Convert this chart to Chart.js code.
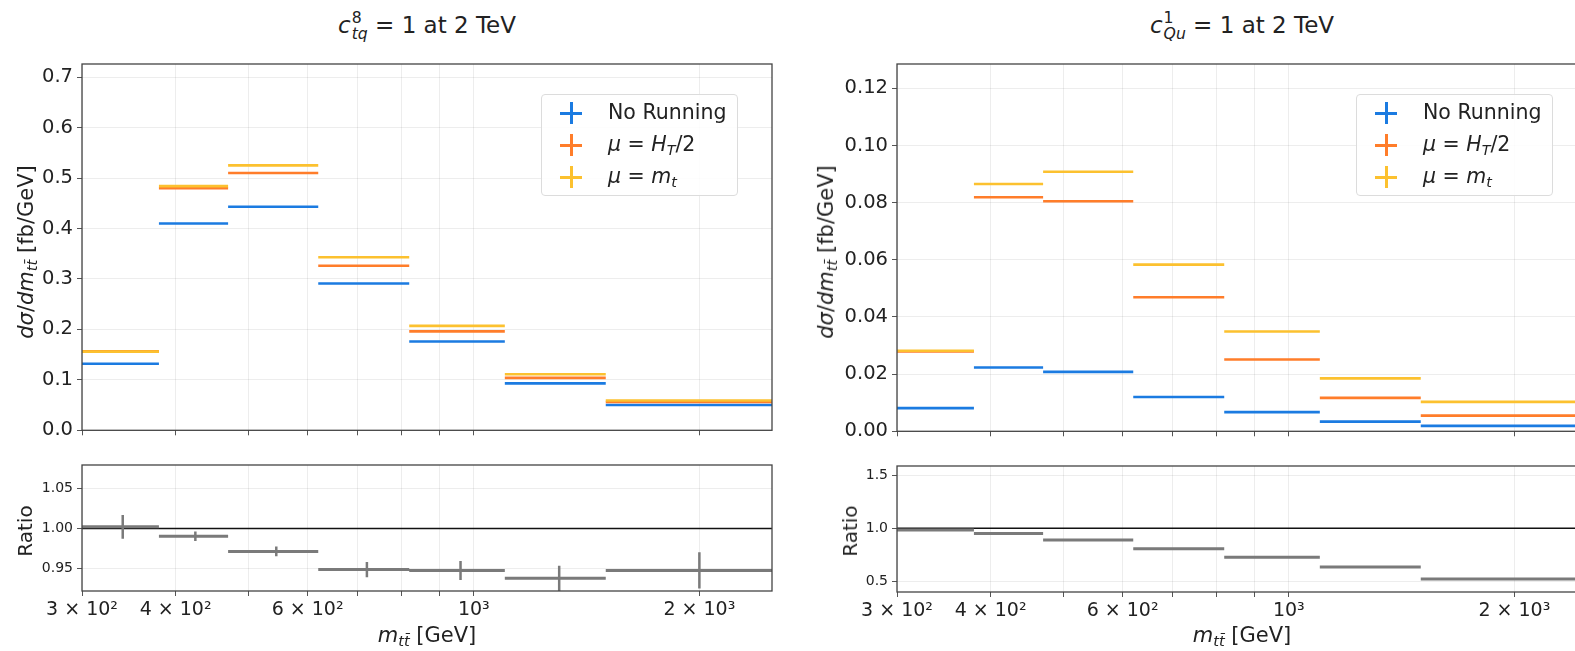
<!DOCTYPE html>
<html>
<head>
<meta charset="utf-8">
<script src="https://cdn.jsdelivr.net/npm/chart.js@4.4.1/dist/chart.umd.min.js"></script>
<style>
  body { margin: 0; width: 1575px; height: 651px; overflow: hidden; background: #fff; position: relative;
         font-family: 'DejaVu Sans', sans-serif; color: #222; }
  .box { position: absolute; }
  .txt { position: absolute; white-space: nowrap; transform: translate(-50%, -50%); line-height: 1; }
  .rot { transform: translate(-50%, -50%) rotate(-90deg); }
  .ss { display: inline-flex; flex-direction: column; vertical-align: middle; font-size: 0.68em; line-height: 1.05; margin-left: 1px; }
  .ss i, .ss span { text-align: left; }
  sub { font-size: 0.7em; vertical-align: -0.3em; }
  .legend { position: absolute; width: 195px; height: 100px; border: 1px solid #dcdcdc; border-radius: 4px;
            background: rgba(255,255,255,0.85); font-size: 20.5px; }
  .row { position: absolute; left: 0; height: 30px; width: 100%; }
  .plus { position: absolute; left: 18px; top: 4px; width: 22px; height: 22px; }
  .plus::before, .plus::after { content: ''; position: absolute; background: var(--c); }
  .plus::before { left: 0; top: 10px; width: 22px; height: 3px; }
  .plus::after { left: 10px; top: 0; width: 3px; height: 22px; }
  .lab { position: absolute; left: 66px; top: 3px; line-height: 1.1; }
</style>
</head>
<body>
<div class="box" id="leftMainBox"><canvas id="leftMain"></canvas></div>
<div class="box" id="leftRatioBox"><canvas id="leftRatio"></canvas></div>
<div class="box" id="rightMainBox"><canvas id="rightMain"></canvas></div>
<div class="box" id="rightRatioBox"><canvas id="rightRatio"></canvas></div>

<div class="txt" style="left:427px;top:26px;font-size:23px"><i>c</i><span class="ss"><span>8</span><i>tq</i></span> = 1 at 2 TeV</div>
<div class="txt" style="left:1242px;top:26px;font-size:23px"><i>c</i><span class="ss"><span>1</span><i>Qu</i></span> = 1 at 2 TeV</div>

<div class="txt rot" style="left:28px;top:252px;font-size:21px"><i>dσ</i>/<i>dm</i><sub><i>tt̄</i></sub> [fb/GeV]</div>
<div class="txt rot" style="left:828px;top:252px;font-size:21px"><i>dσ</i>/<i>dm</i><sub><i>tt̄</i></sub> [fb/GeV]</div>
<div class="txt rot" style="left:25px;top:531px;font-size:20px">Ratio</div>
<div class="txt rot" style="left:850px;top:531px;font-size:20px">Ratio</div>
<div class="txt" style="left:427px;top:637px;font-size:21px"><i>m</i><sub><i>tt̄</i></sub> [GeV]</div>
<div class="txt" style="left:1242px;top:637px;font-size:21px"><i>m</i><sub><i>tt̄</i></sub> [GeV]</div>

<div class="legend" style="left:541px;top:94px">
  <div class="row" style="top:3px"><span class="plus" style="--c:#1b7be1"></span><span class="lab">No Running</span></div>
  <div class="row" style="top:35px"><span class="plus" style="--c:#ff7d2a"></span><span class="lab"><i>μ</i> = <i>H</i><sub><i>T</i></sub>/2</span></div>
  <div class="row" style="top:67px"><span class="plus" style="--c:#fcc12f"></span><span class="lab"><i>μ</i> = <i>m</i><sub><i>t</i></sub></span></div>
</div>
<div class="legend" style="left:1356px;top:94px">
  <div class="row" style="top:3px"><span class="plus" style="--c:#1b7be1"></span><span class="lab">No Running</span></div>
  <div class="row" style="top:35px"><span class="plus" style="--c:#ff7d2a"></span><span class="lab"><i>μ</i> = <i>H</i><sub><i>T</i></sub>/2</span></div>
  <div class="row" style="top:67px"><span class="plus" style="--c:#fcc12f"></span><span class="lab"><i>μ</i> = <i>m</i><sub><i>t</i></sub></span></div>
</div>

<script>
// bin edges in m_tt [GeV]
const binEdges = [300, 380, 470, 620, 820, 1100, 1500, 2500];

// c_tq^8 panel
const leftNoRunning = [0.132, 0.410, 0.443, 0.291, 0.176, 0.093, 0.050];
const leftHT2 = [0.1565, 0.480, 0.510, 0.326, 0.196, 0.104, 0.056];
const leftMt = [0.156, 0.484, 0.525, 0.343, 0.207, 0.111, 0.059];
const leftRatio = [1.002, 0.990, 0.971, 0.948, 0.947, 0.937, 0.947];
const leftRatioErr = [0.015, 0.006, 0.006, 0.0095, 0.012, 0.016, 0.023];

// c_Qu^1 panel
const rightNoRunning = [0.0081, 0.0223, 0.0208, 0.0120, 0.0067, 0.0034, 0.0019];
const rightHT2 = [0.0279, 0.0819, 0.0805, 0.0469, 0.0251, 0.0117, 0.0055];
const rightMt = [0.0282, 0.0865, 0.0908, 0.0583, 0.0349, 0.0185, 0.0103];
const rightRatio = [0.984, 0.952, 0.889, 0.807, 0.727, 0.635, 0.521];
const rightRatioErr = [0, 0, 0, 0, 0, 0, 0];

// ticks
const xTickValues = [300, 400, 500, 600, 700, 800, 900, 1000, 2000];
const xTickLabels = { 300: '3 × 10²', 400: '4 × 10²', 600: '6 × 10²', 1000: '10³', 2000: '2 × 10³' };
const leftMainTicks = [0, 0.1, 0.2, 0.3, 0.4, 0.5, 0.6, 0.7];
const rightMainTicks = [0, 0.02, 0.04, 0.06, 0.08, 0.10, 0.12];
const leftRatioTicks = [0.95, 1.00, 1.05];
const rightRatioTicks = [0.5, 1.0, 1.5];
const ratioRef = 1;

const BLUE = '#1b7be1', ORANGE = '#ff7d2a', YELLOW = '#fcc12f', GREY = '#7a7a7a';
const PAD = 20, YW = 80;

Chart.defaults.font.family = "'DejaVu Sans', sans-serif";
Chart.defaults.color = '#222';

function stepData(values) {
  const pts = [];
  values.forEach((v, i) => {
    pts.push({ x: binEdges[i], y: v }, { x: binEdges[i + 1], y: v }, { x: binEdges[i + 1], y: null });
  });
  return pts;
}

function errData(values, errs) {
  const pts = [];
  values.forEach((v, i) => {
    const c = (binEdges[i] + binEdges[i + 1]) / 2;
    pts.push({ x: c, y: v - errs[i] }, { x: c, y: v + errs[i] }, { x: c, y: null });
  });
  return pts;
}

const frame = {
  id: 'frame',
  afterDatasetsDraw(chart) {
    const { ctx, chartArea: { left, top, width, height } } = chart;
    ctx.save();
    ctx.strokeStyle = '#444';
    ctx.lineWidth = 1.3;
    ctx.strokeRect(left, top, width, height);
    ctx.restore();
  }
};

function line(data, color, width, order) {
  return {
    data, borderColor: color, borderWidth: width, pointRadius: 0, spanGaps: false,
    borderCapStyle: 'butt', tension: 0, order
  };
}

function panel(id, area, xh, showLabels, yMin, yMax, yTicks, yDigits, ySize, datasets) {
  const box = document.getElementById(id + 'Box');
  const canvas = document.getElementById(id);
  const w = YW + area.w + PAD, h = PAD + area.h + xh;
  box.style.left = (area.x - YW) + 'px';
  box.style.top = (area.y - PAD) + 'px';
  canvas.width = w; canvas.height = h;
  canvas.style.width = w + 'px'; canvas.style.height = h + 'px';

  new Chart(canvas, {
    type: 'line',
    plugins: [frame],
    data: { datasets },
    options: {
      responsive: false,
      animation: false,
      layout: { padding: { top: PAD, right: PAD, bottom: 0, left: 0 } },
      plugins: { legend: { display: false }, tooltip: { enabled: false } },
      scales: {
        x: {
          type: 'logarithmic', min: 300, max: 2500,
          afterBuildTicks: s => { s.ticks = xTickValues.map(v => ({ value: v })); },
          afterFit: s => { s.height = xh; },
          ticks: {
            autoSkip: false, maxRotation: 0, padding: 3,
            font: { size: 19 }, color: '#222',
            callback: v => showLabels ? (xTickLabels[v] || '') : ''
          },
          grid: { color: 'rgba(0,0,0,0.07)', tickColor: '#555', tickLength: 5 },
          border: { display: false }
        },
        y: {
          min: yMin, max: yMax,
          afterBuildTicks: s => { s.ticks = yTicks.map(v => ({ value: v })); },
          afterFit: s => { s.width = YW; },
          ticks: { padding: 4, font: { size: ySize }, color: '#222', callback: v => v.toFixed(yDigits) },
          grid: { color: 'rgba(0,0,0,0.07)', tickColor: '#555', tickLength: 5 },
          border: { display: false }
        }
      }
    }
  });
}

const leftArea = { x: 82, w: 690 };
const rightArea = { x: 897, w: 690 };

panel('leftMain', { ...leftArea, y: 64, h: 376 }, 6, false, 0, 0.726, leftMainTicks, 1, 19.5, [
  line(stepData(leftMt), YELLOW, 2.6, 0),
  line(stepData(leftHT2), ORANGE, 2.6, 1),
  line(stepData(leftNoRunning), BLUE, 2.6, 2)
]);

panel('rightMain', { ...rightArea, y: 64, h: 377 }, 6, false, 0, 0.1285, rightMainTicks, 2, 19.5, [
  line(stepData(rightMt), YELLOW, 2.6, 0),
  line(stepData(rightHT2), ORANGE, 2.6, 1),
  line(stepData(rightNoRunning), BLUE, 2.6, 2)
]);

panel('leftRatio', { ...leftArea, y: 465, h: 126 }, 40, true, 0.921, 1.080, leftRatioTicks, 2, 14, [
  line(stepData(leftRatio), GREY, 3, 0),
  line(errData(leftRatio, leftRatioErr), GREY, 2.5, 1),
  line([{ x: 300, y: ratioRef }, { x: 2500, y: ratioRef }], '#111', 1.5, 2)
]);

panel('rightRatio', { ...rightArea, y: 466, h: 126 }, 40, true, 0.398, 1.589, rightRatioTicks, 1, 14, [
  line(stepData(rightRatio), GREY, 3, 0),
  line(errData(rightRatio, rightRatioErr), GREY, 2.5, 1),
  line([{ x: 300, y: ratioRef }, { x: 2500, y: ratioRef }], '#111', 1.5, 2)
]);
</script>
</body>
</html>
